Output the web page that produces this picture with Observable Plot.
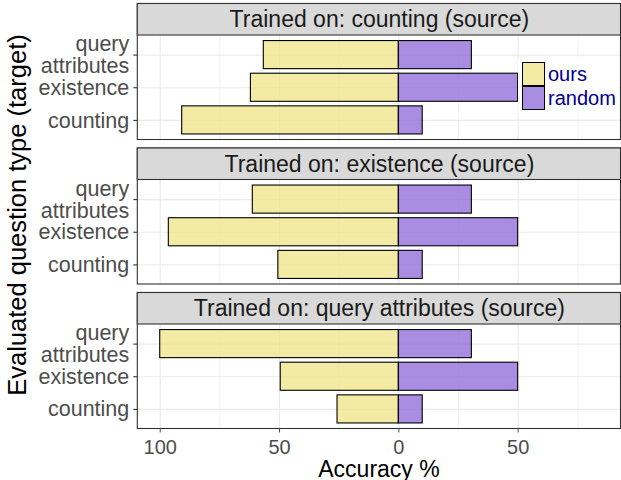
<!DOCTYPE html>
<html>
<head>
<meta charset="utf-8">
<script src="https://cdn.jsdelivr.net/npm/d3@7"></script>
<script src="https://cdn.jsdelivr.net/npm/@observablehq/plot@0.6"></script>
<style>
  body { margin: 0; background: #fff; }
  #chart { position: relative; width: 621px; height: 480px; font-family: "Liberation Sans", Arial, sans-serif; }
  #chart svg { position: absolute; left: 0; top: 0; }
  .ytitle { position: absolute; left: 18px; top: 215px; transform: translate(-50%, -50%) rotate(-90deg); white-space: nowrap; font-size: 25.5px; line-height: 1; color: #000; }
  .xtitle { position: absolute; left: 379px; top: 469px; transform: translate(-50%, -50%); white-space: nowrap; font-size: 23px; line-height: 1; color: #000; }
  .legend { position: absolute; left: 518px; top: 59px; background: #fff; padding: 3px 2px 3px 4px; }
  .legend .row { display: flex; align-items: center; height: 24px; }
  .legend .sw { width: 21px; height: 22px; border: 1.1px solid #000; box-sizing: content-box; }
  .legend .row + .row .sw { border-top-width: 0.5px; }
  .legend .lab { margin-left: 3px; font-size: 20px; color: #00008B; line-height: 22px; }
</style>
</head>
<body>
<div id="chart"></div>
<script>
// ---- data ----
const sources = ["counting", "existence", "query attributes"];
const targets = ["counting", "existence", "query attributes"];
const targetLabels = ["counting", "existence", "query\nattributes"];
// accuracy of "ours" per target (counting, existence, query attributes), by training source
const oursTrainedCounting = [90.8, 62.0, 56.6];
const oursTrainedExistence = [50.5, 96.4, 61.2];
const oursTrainedQuery = [25.7, 49.5, 100.0];
// accuracy of "random" per target
const randomAcc = [10.0, 50.0, 30.6];
const methods = ["ours", "random"];
const methodColors = ["khaki", "mediumpurple"];
const xTicks = [-100, -50, 0, 50];
const xMinor = [-75, -25, 25, 75];

// ---- table ----
const oursBySource = [oursTrainedCounting, oursTrainedExistence, oursTrainedQuery];
const rows = [];
sources.forEach((s, i) => targets.forEach((t, j) => {
  rows.push({source: s, target: t, pos: j + 1, method: "ours", x1: -oursBySource[i][j], x2: 0});
  rows.push({source: s, target: t, pos: j + 1, method: "random", x1: 0, x2: randomAcc[j]});
}));

// ---- layout ----
const W = 621, H = 480;
const yLo = 0.4, yHi = 3.6, stripU = 0.9646, barHalf = 0.43;
const xDom = [-109.4, 93.1];
const xMid = (xDom[0] + xDom[1]) / 2;
const font = '"Liberation Sans", Arial, sans-serif';

const plot = Plot.plot({
  width: W, height: H,
  marginLeft: 137.3, marginRight: 0.5, marginTop: 3.5, marginBottom: 51.5,
  style: {fontFamily: font, background: "white", overflow: "visible"},
  x: {domain: xDom},
  y: {domain: [yLo, yHi + stripU]},
  fy: {domain: sources, axis: null, paddingInner: 0.0588, paddingOuter: 0, round: false},
  color: {domain: methods, range: methodColors},
  marks: [
    Plot.ruleX(xMinor, {x: d => d, y1: yLo, y2: yHi, stroke: "#EBEBEB", strokeWidth: 0.6}),
    Plot.ruleX(xTicks, {x: d => d, y1: yLo, y2: yHi, stroke: "#EBEBEB", strokeWidth: 1.2}),
    Plot.ruleY([1, 2, 3], {y: d => d, x1: xDom[0], x2: xDom[1], stroke: "#EBEBEB", strokeWidth: 1.2}),
    Plot.rect(rows, {
      x1: "x1", x2: "x2",
      y1: d => d.pos - barHalf, y2: d => d.pos + barHalf,
      fy: "source", fill: "method", fillOpacity: 0.8,
      stroke: "black", strokeWidth: 1.1
    }),
    Plot.rect([0], {x1: xDom[0], x2: xDom[1], y1: yLo, y2: yHi + stripU, fill: "none", stroke: "#333333", strokeWidth: 1.1}),
    Plot.rect(sources, {fy: d => d, x1: xDom[0], x2: xDom[1], y1: yHi, y2: yHi + stripU, fill: "#D9D9D9", stroke: "#333333", strokeWidth: 1.1}),
    Plot.text(sources, {
      fy: d => d, x: xMid, y: yHi + stripU / 2,
      text: d => `Trained on: ${d} (source)`,
      fontSize: 23, fill: "#1A1A1A"
    }),
    Plot.axisY({ticks: [1, 2, 3], tickFormat: () => "", tickSize: 4, stroke: "#333333", strokeWidth: 1.1, label: null}),
    Plot.text(targets, {
      y: (d, i) => i + 1, text: (d, i) => targetLabels[i],
      frameAnchor: "left", dx: -8.5, textAnchor: "end",
      lineHeight: 1.03, fontSize: 21.5, fill: "#4D4D4D"
    }),
    Plot.axisX({
      ticks: xTicks, tickFormat: d => String(Math.abs(d)), anchor: "bottom",
      tickSize: 4, tickPadding: 7, fontSize: 20, color: "#4D4D4D", label: null
    })
  ]
});

const chart = document.getElementById("chart");
chart.appendChild(plot);

const yt = document.createElement("div");
yt.className = "ytitle";
yt.textContent = "Evaluated question type (target)";
chart.appendChild(yt);

const xt = document.createElement("div");
xt.className = "xtitle";
xt.textContent = "Accuracy %";
chart.appendChild(xt);

const lg = document.createElement("div");
lg.className = "legend";
methods.forEach((m, i) => {
  const row = document.createElement("div");
  row.className = "row";
  const sw = document.createElement("div");
  sw.className = "sw";
  const c = d3.color(methodColors[i]); c.opacity = 0.8;
  sw.style.background = c.formatRgb();
  const lab = document.createElement("span");
  lab.className = "lab";
  lab.textContent = m;
  row.appendChild(sw); row.appendChild(lab);
  lg.appendChild(row);
});
chart.appendChild(lg);
</script>
</body>
</html>
